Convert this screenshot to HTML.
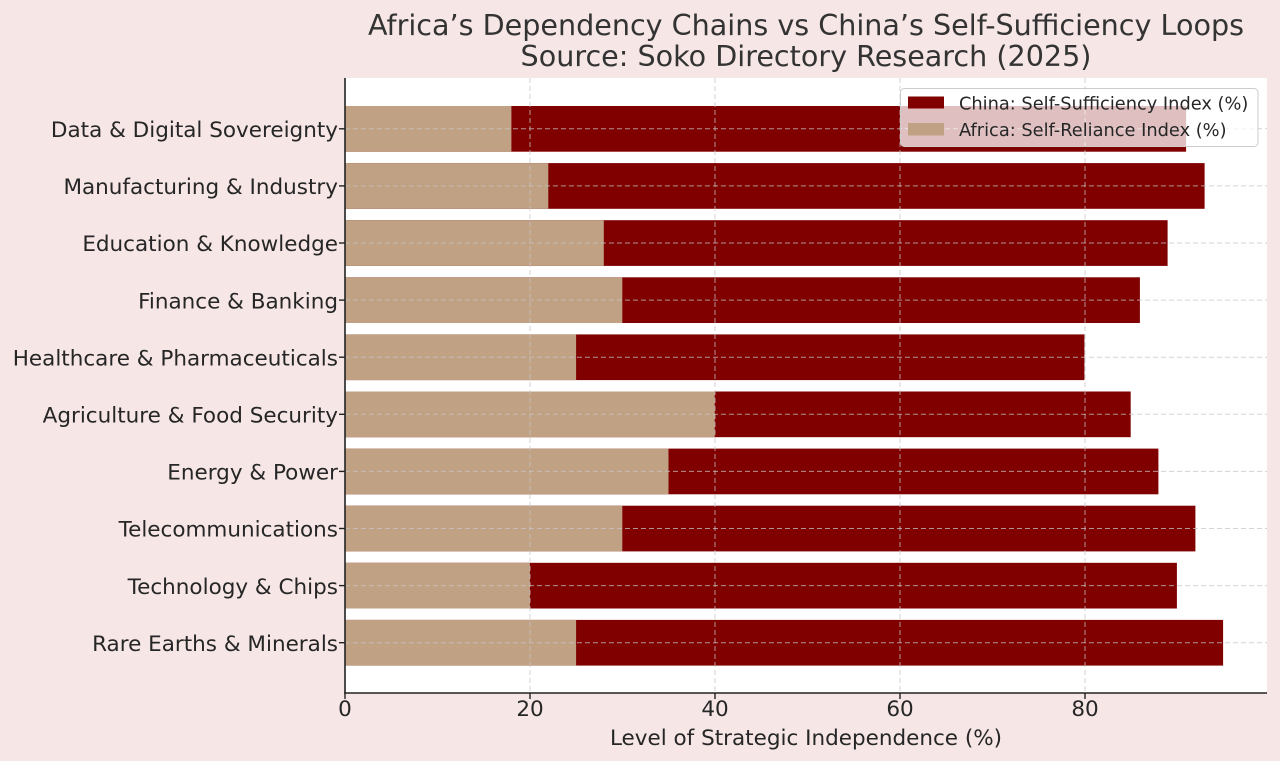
<!DOCTYPE html>
<html><head><meta charset="utf-8">
<style>
html,body{margin:0;padding:0;background:#f6e6e6;}
svg{display:block;}
text{font-family:"DejaVu Sans","Liberation Sans",sans-serif;}
</style></head>
<body>
<svg width="1280" height="761" viewBox="0 0 1280 761" xmlns="http://www.w3.org/2000/svg">
<rect x="0" y="0" width="1280" height="761" fill="#f6e6e6"/>
<!-- plot area -->
<rect x="345" y="78" width="922" height="615.5" fill="#ffffff"/>

<!-- bars: china (full) then africa overlay -->
<g fill="#800000">
<rect x="345" y="106.0" width="841.1" height="45.7"/>
<rect x="345" y="163.1" width="859.6" height="45.7"/>
<rect x="345" y="220.2" width="822.6" height="45.7"/>
<rect x="345" y="277.3" width="794.9" height="45.7"/>
<rect x="345" y="334.4" width="739.4" height="45.7"/>
<rect x="345" y="391.5" width="785.7" height="45.7"/>
<rect x="345" y="448.6" width="813.4" height="45.7"/>
<rect x="345" y="505.7" width="850.4" height="45.7"/>
<rect x="345" y="562.8" width="831.9" height="45.7"/>
<rect x="345" y="619.9" width="878.1" height="45.7"/>
</g>
<g fill="#c1a183">
<rect x="345" y="106.0" width="166.4" height="45.7"/>
<rect x="345" y="163.1" width="203.3" height="45.7"/>
<rect x="345" y="220.2" width="258.8" height="45.7"/>
<rect x="345" y="277.3" width="277.3" height="45.7"/>
<rect x="345" y="334.4" width="231.1" height="45.7"/>
<rect x="345" y="391.5" width="369.7" height="45.7"/>
<rect x="345" y="448.6" width="323.5" height="45.7"/>
<rect x="345" y="505.7" width="277.3" height="45.7"/>
<rect x="345" y="562.8" width="184.9" height="45.7"/>
<rect x="345" y="619.9" width="231.1" height="45.7"/>
</g>

<!-- grid -->
<g stroke="#c4c4c4" stroke-opacity="0.75" stroke-width="1" stroke-dasharray="5,3" fill="none">
<line x1="530" y1="78" x2="530" y2="693"/>
<line x1="715" y1="78" x2="715" y2="693"/>
<line x1="900" y1="78" x2="900" y2="693"/>
<line x1="1085" y1="78" x2="1085" y2="693"/>
<line x1="345" y1="128.8" x2="1267" y2="128.8"/>
<line x1="345" y1="185.9" x2="1267" y2="185.9"/>
<line x1="345" y1="243.0" x2="1267" y2="243.0"/>
<line x1="345" y1="300.1" x2="1267" y2="300.1"/>
<line x1="345" y1="357.2" x2="1267" y2="357.2"/>
<line x1="345" y1="414.3" x2="1267" y2="414.3"/>
<line x1="345" y1="471.4" x2="1267" y2="471.4"/>
<line x1="345" y1="528.5" x2="1267" y2="528.5"/>
<line x1="345" y1="585.6" x2="1267" y2="585.6"/>
<line x1="345" y1="642.7" x2="1267" y2="642.7"/>
</g>

<!-- spines -->
<g stroke="#222" stroke-width="1.6" fill="none">
<line x1="345" y1="78" x2="345" y2="693.8"/>
<line x1="344.2" y1="693" x2="1267" y2="693"/>
</g>
<!-- ticks -->
<g stroke="#222" stroke-width="1.4">
<line x1="339" y1="128.8" x2="345" y2="128.8"/>
<line x1="339" y1="185.9" x2="345" y2="185.9"/>
<line x1="339" y1="243.0" x2="345" y2="243.0"/>
<line x1="339" y1="300.1" x2="345" y2="300.1"/>
<line x1="339" y1="357.2" x2="345" y2="357.2"/>
<line x1="339" y1="414.3" x2="345" y2="414.3"/>
<line x1="339" y1="471.4" x2="345" y2="471.4"/>
<line x1="339" y1="528.5" x2="345" y2="528.5"/>
<line x1="339" y1="585.6" x2="345" y2="585.6"/>
<line x1="339" y1="642.7" x2="345" y2="642.7"/>
<line x1="345" y1="693" x2="345" y2="699"/>
<line x1="530" y1="693" x2="530" y2="699"/>
<line x1="715" y1="693" x2="715" y2="699"/>
<line x1="900" y1="693" x2="900" y2="699"/>
<line x1="1085" y1="693" x2="1085" y2="699"/>
</g>

<!-- y labels -->
<g font-size="21.5" fill="#262626" text-anchor="end">
<text x="338" y="137">Data &amp; Digital Sovereignty</text>
<text x="338" y="194.1">Manufacturing &amp; Industry</text>
<text x="338" y="251.2">Education &amp; Knowledge</text>
<text x="338" y="308.3">Finance &amp; Banking</text>
<text x="338" y="365.4">Healthcare &amp; Pharmaceuticals</text>
<text x="338" y="422.5">Agriculture &amp; Food Security</text>
<text x="338" y="479.6">Energy &amp; Power</text>
<text x="338" y="536.7">Telecommunications</text>
<text x="338" y="593.8">Technology &amp; Chips</text>
<text x="338" y="650.9">Rare Earths &amp; Minerals</text>
</g>

<!-- x labels -->
<g font-size="21.5" fill="#262626" text-anchor="middle">
<text x="345" y="716">0</text>
<text x="530" y="716">20</text>
<text x="715" y="716">40</text>
<text x="900" y="716">60</text>
<text x="1085" y="716">80</text>
<text x="806" y="745">Level of Strategic Independence (%)</text>
</g>

<!-- title -->
<g font-size="28.6" fill="#333333" text-anchor="middle">
<text x="806" y="35">Africa’s Dependency Chains vs China’s Self-Sufficiency Loops</text>
<text x="806" y="66">Source: Soko Directory Research (2025)</text>
</g>

<!-- legend -->
<rect x="900.5" y="88.5" width="357.5" height="58" rx="4" ry="4" fill="#ffffff" fill-opacity="0.75" stroke="#cccccc" stroke-width="1"/>
<rect x="908" y="96.5" width="36" height="12" fill="#800000"/>
<rect x="908" y="123" width="36" height="12.5" fill="#c1a183"/>
<g font-size="17.8" fill="#262626">
<text x="959" y="109.5">China: Self-Sufficiency Index (%)</text>
<text x="959" y="136">Africa: Self-Reliance Index (%)</text>
</g>
</svg>
</body></html>
